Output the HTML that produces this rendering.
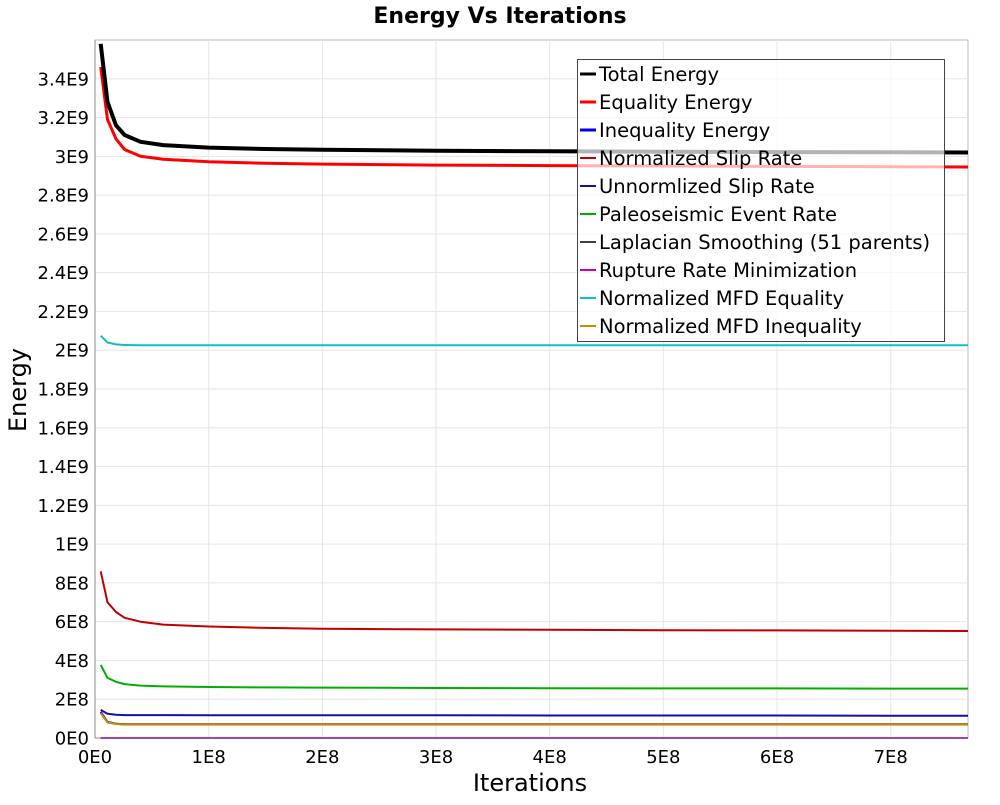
<!DOCTYPE html>
<html><head><meta charset="utf-8"><style>
body{margin:0;background:#fff;font-family:"Liberation Sans","DejaVu Sans",sans-serif}
svg text{font-family:"DejaVu Sans","Liberation Sans",sans-serif}
</style></head><body>
<svg id="chart" width="1000" height="800" xmlns="http://www.w3.org/2000/svg">
<rect width="1000" height="800" fill="#fff"/>
<text x="500" y="23" text-anchor="middle" font-size="22" font-weight="bold">Energy Vs Iterations</text>
<g id="grid"></g>
<g id="series"></g>
<g id="axes"></g>
<text transform="translate(26,390) rotate(-90)" text-anchor="middle" font-size="24">Energy</text>
<text x="530" y="791" text-anchor="middle" font-size="24">Iterations</text>
<g id="legend"></g>
</svg>
<script>
const xs = [5e6, 1.1e7, 1.85e7, 2.6e7, 4e7, 6e7, 1e8, 1.5e8, 2e8, 3e8, 4e8, 5e8, 6e8, 7e8, 7.68e8];
const totalEnergy = [3.58e9,3.28e9,3.16e9,3.11e9,3.075e9,3.058e9,3.045e9,3.038e9,3.034e9,3.029e9,3.026e9,3.024e9,3.022e9,3.021e9,3.02e9];
const equalityEnergy = [3.46e9,3.19e9,3.09e9,3.035e9,3.0e9,2.985e9,2.972e9,2.964e9,2.96e9,2.955e9,2.952e9,2.95e9,2.948e9,2.946e9,2.945e9];
const inequalityEnergy = [1.35e8,8.3e7,7.3e7,7.0e7,7.0e7,7.0e7,7.0e7,7.0e7,7.0e7,7.0e7,7.0e7,7.0e7,7.0e7,7.0e7,7.0e7];
const normSlip = [8.6e8,7.0e8,6.5e8,6.2e8,6.0e8,5.85e8,5.75e8,5.68e8,5.63e8,5.6e8,5.58e8,5.56e8,5.55e8,5.53e8,5.52e8];
const unnormSlip = [1.45e8,1.25e8,1.2e8,1.18e8,1.18e8,1.18e8,1.17e8,1.17e8,1.17e8,1.17e8,1.16e8,1.16e8,1.16e8,1.15e8,1.15e8];
const paleo = [3.77e8,3.1e8,2.9e8,2.78e8,2.7e8,2.66e8,2.63e8,2.61e8,2.6e8,2.58e8,2.57e8,2.56e8,2.56e8,2.55e8,2.55e8];
const laplacian = [1.3e8,8.2e7,7.4e7,7.1e7,7.1e7,7.1e7,7.1e7,7.1e7,7.1e7,7.1e7,7.1e7,7.1e7,7.1e7,7.1e7,7.1e7];
const ruptureMin = [0,0,0,0,0,0,0,0,0,0,0,0,0,0,0];
const mfdEquality = [2.075e9,2.04e9,2.03e9,2.027e9,2.026e9,2.026e9,2.026e9,2.026e9,2.026e9,2.026e9,2.026e9,2.026e9,2.026e9,2.026e9,2.026e9];
const mfdInequality = [1.28e8,8.0e7,7.2e7,6.9e7,6.9e7,6.9e7,6.9e7,6.9e7,6.9e7,6.9e7,6.9e7,6.9e7,6.9e7,6.9e7,6.9e7];
const seriesNames = ["Total Energy","Equality Energy","Inequality Energy","Normalized Slip Rate","Unnormlized Slip Rate","Paleoseismic Event Rate","Laplacian Smoothing (51 parents)","Rupture Rate Minimization","Normalized MFD Equality","Normalized MFD Inequality"];
const seriesValues = [totalEnergy,equalityEnergy,inequalityEnergy,normSlip,unnormSlip,paleo,laplacian,ruptureMin,mfdEquality,mfdInequality];
const yTicks = [0,2e8,4e8,6e8,8e8,1e9,1.2e9,1.4e9,1.6e9,1.8e9,2e9,2.2e9,2.4e9,2.6e9,2.8e9,3e9,3.2e9,3.4e9];
const yTickLabels = ["0E0","2E8","4E8","6E8","8E8","1E9","1.2E9","1.4E9","1.6E9","1.8E9","2E9","2.2E9","2.4E9","2.6E9","2.8E9","3E9","3.2E9","3.4E9"];
const xTicks = [0,1e8,2e8,3e8,4e8,5e8,6e8,7e8];
const xTickLabels = ["0E0","1E8","2E8","3E8","4E8","5E8","6E8","7E8"];

const colors = ["#000","#ff0000","#0000ee","#c00000","#1010b0","#00b000","#404040","#c000c0","#10c0c0","#c09000"];
const widths = [4,3,2,2,2,2,2,2,2,2];
const L=95,R=968,T=40,B=738;
const X0=0,X1=7.68e8,Y0=0,Y1=3.6e9;
const sx=v=>L+(v-X0)/(X1-X0)*(R-L);
const sy=v=>B-(v-Y0)/(Y1-Y0)*(B-T);
const NS="http://www.w3.org/2000/svg";
function mk(tag,attrs,parent){const e=document.createElementNS(NS,tag);for(const k in attrs)e.setAttribute(k,attrs[k]);parent.appendChild(e);return e;}
const grid=document.getElementById('grid'),axes=document.getElementById('axes'),ser=document.getElementById('series'),leg=document.getElementById('legend');
mk('rect',{x:L,y:T,width:R-L,height:B-T,fill:'#fff',stroke:'#bbb'},grid);
yTicks.forEach((v,i)=>{
  const gl=mk('line',{x1:L,x2:R,y1:sy(v),y2:sy(v),stroke:'#e6e6e6'},grid);
  
  
  const t=mk('text',{x:L-6,y:sy(v)+6.5,'text-anchor':'end','font-size':18},axes);
  t.textContent=yTickLabels[i];
  
  
});
xTicks.forEach((v,i)=>{
  const gl=mk('line',{x1:sx(v),x2:sx(v),y1:T,y2:B,stroke:'#e6e6e6'},grid);
  
  
  const t=mk('text',{x:sx(v),y:B+25,'text-anchor':'middle','font-size':18},axes);
  t.textContent=xTickLabels[i];
  
  
});
mk('line',{x1:L,x2:L,y1:T,y2:B,stroke:'#888'},axes);
mk('line',{x1:L,x2:R,y1:B,y2:B,stroke:'#888'},axes);
const order=[7,2,6,9,4,5,3,8,1,0];
order.forEach(i=>{
  const pts=xs.map((x,j)=>sx(x).toFixed(1)+','+sy(seriesValues[i][j]).toFixed(1)).join(' ');
  const p=mk('polyline',{points:pts,fill:'none',stroke:colors[i],'stroke-width':widths[i],'stroke-linejoin':'round'},ser);
  
  
});
const lb=mk('rect',{x:577.5,y:59.5,width:367,height:282,fill:'rgba(255,255,255,0.7)',stroke:'#444'},leg);


seriesNames.forEach((n,i)=>{
  const y=74+i*28;
  const g=mk('g',{},leg);
  
  
  mk('line',{x1:580,x2:596,y1:y,y2:y,stroke:colors[i],'stroke-width':(i<3?3:2)},g);
  const t=mk('text',{x:599,y:y+7,'font-size':19.5},g);
  t.textContent=n;
});
</script>
</body></html>
